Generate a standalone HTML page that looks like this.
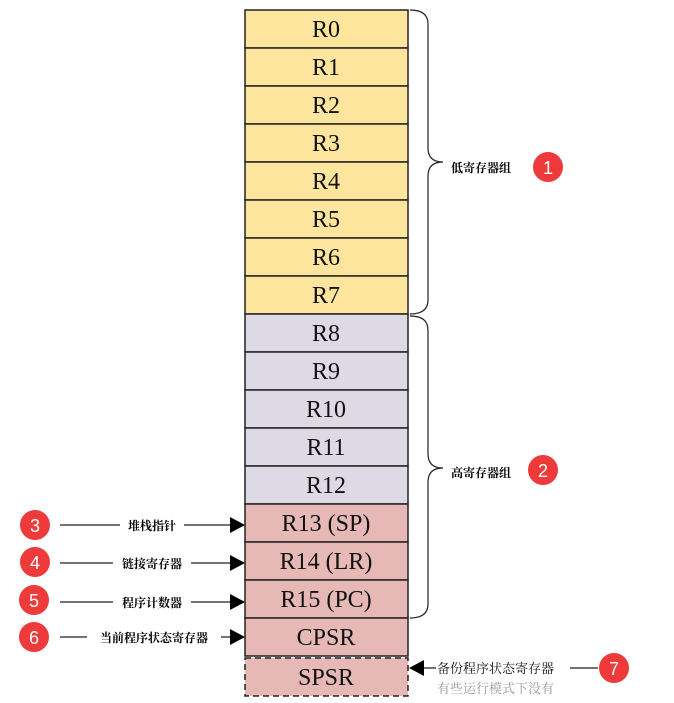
<!DOCTYPE html><html><head><meta charset="utf-8"><style>body{margin:0;background:#fff}svg{display:block}</style></head><body>
<svg width="674" height="703" xmlns="http://www.w3.org/2000/svg" font-family="Liberation Serif, Noto Serif CJK SC, serif">
<g stroke="#222" stroke-width="1.5">
<rect x="245" y="10" width="163" height="38" fill="#fee59d"/><rect x="245" y="48" width="163" height="38" fill="#fee59d"/><rect x="245" y="86" width="163" height="38" fill="#fee59d"/><rect x="245" y="124" width="163" height="38" fill="#fee59d"/><rect x="245" y="162" width="163" height="38" fill="#fee59d"/><rect x="245" y="200" width="163" height="38" fill="#fee59d"/><rect x="245" y="238" width="163" height="38" fill="#fee59d"/><rect x="245" y="276" width="163" height="38" fill="#fee59d"/>
<rect x="245" y="314" width="163" height="38" fill="#dddae6"/><rect x="245" y="352" width="163" height="38" fill="#dddae6"/><rect x="245" y="390" width="163" height="38" fill="#dddae6"/><rect x="245" y="428" width="163" height="38" fill="#dddae6"/><rect x="245" y="466" width="163" height="38" fill="#dddae6"/>
<rect x="245" y="504" width="163" height="38" fill="#e6b8b6"/><rect x="245" y="542" width="163" height="38" fill="#e6b8b6"/><rect x="245" y="580" width="163" height="38" fill="#e6b8b6"/><rect x="245" y="618" width="163" height="38" fill="#e6b8b6"/>
<rect x="245" y="658" width="163" height="38" fill="#e6b8b6" stroke-dasharray="6,4"/>
</g>
<g font-size="24" text-anchor="middle" fill="#111">
<text x="326" y="37">R0</text><text x="326" y="75">R1</text><text x="326" y="113">R2</text><text x="326" y="151">R3</text><text x="326" y="189">R4</text><text x="326" y="227">R5</text><text x="326" y="265">R6</text><text x="326" y="303">R7</text><text x="326" y="341">R8</text><text x="326" y="379">R9</text><text x="326" y="417">R10</text><text x="326" y="455">R11</text><text x="326" y="493">R12</text><text x="326" y="531">R13 (SP)</text><text x="326" y="569">R14 (LR)</text><text x="326" y="607">R15 (PC)</text><text x="326" y="645">CPSR</text><text x="326" y="685">SPSR</text>
</g>
<g fill="none" stroke="#222" stroke-width="1.2">
<path d="M410 10 Q428 10 428 24 L428 148 Q428 162 443 162 Q428 162 428 176 L428 300 Q428 314 410 314"/>
<path d="M410 316 Q428 316 428 330 L428 454 Q428 468 443 468 Q428 468 428 482 L428 604 Q428 618 410 618"/>
<path d="M60 525H230M60 563H230M60 602H230M60 637H230M420 668H598"/>
</g>
<g fill="#000"><path d="M230 517L245 525L230 533Z"/><path d="M230 555L245 563L230 571Z"/><path d="M230 594L245 602L230 610Z"/><path d="M230 629L245 637L230 645Z"/><path d="M424 660L409 668L424 676Z"/></g>
<g font-size="12" font-weight="bold" fill="#000" font-family="Noto Serif CJK SC, serif">
<rect x="120" y="517" width="64" height="16" fill="#fff"/><text x="152" y="530" text-anchor="middle">堆栈指针</text>
<rect x="113" y="555" width="78" height="16" fill="#fff"/><text x="152" y="568" text-anchor="middle">链接寄存器</text>
<rect x="113" y="594" width="78" height="16" fill="#fff"/><text x="152" y="607" text-anchor="middle">程序计数器</text>
<rect x="87" y="629" width="134" height="16" fill="#fff"/><text x="154" y="642" text-anchor="middle">当前程序状态寄存器</text>
<text x="451" y="172">低寄存器组</text><text x="451" y="477">高寄存器组</text>
</g>
<rect x="436" y="660" width="134" height="16" fill="#fff"/>
<text x="437" y="673" font-size="13" fill="#111" font-family="Noto Serif CJK SC, serif">备份程序状态寄存器</text>
<text x="437" y="693" font-size="13" fill="#999" font-family="Noto Serif CJK SC, serif">有些运行模式下没有</text>
<g fill="#ee3a3a"><circle cx="548" cy="167" r="15"/><circle cx="543" cy="470" r="15"/><circle cx="35" cy="525" r="15"/><circle cx="35" cy="562" r="15"/><circle cx="34" cy="600" r="15"/><circle cx="34" cy="637" r="15"/><circle cx="614" cy="668" r="15"/></g>
<g fill="#fff" font-family="Liberation Sans, sans-serif" font-size="18" text-anchor="middle">
<text x="548" y="174">1</text><text x="543" y="477">2</text><text x="35" y="532">3</text><text x="35" y="569">4</text><text x="34" y="607">5</text><text x="34" y="644">6</text><text x="614" y="675">7</text>
</g>
</svg>
</body></html>
